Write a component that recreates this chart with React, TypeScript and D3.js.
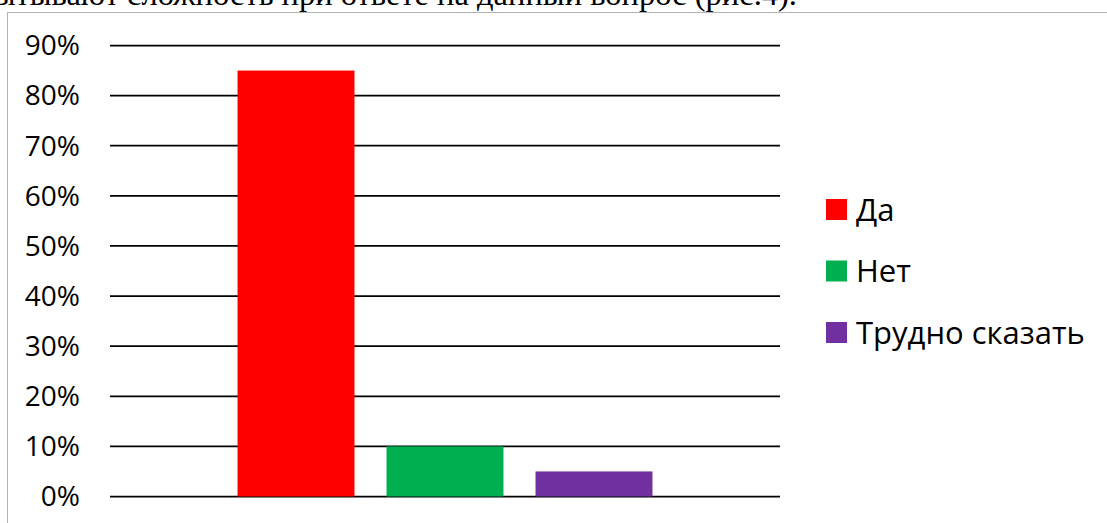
import React from "react";
import * as d3 from "d3";

const seriesNames = ["Да", "Нет", "Трудно сказать"];
const seriesValues = [0.85, 0.1, 0.05];
const seriesColors = ["#ff0000", "#00b050", "#7030a0"];
const yTicks = [0, 0.1, 0.2, 0.3, 0.4, 0.5, 0.6, 0.7, 0.8, 0.9];
const captionText = "испытывают сложность при ответе на данный вопрос (рис.4).";

const W = 1107;
const H = 523;

export default function App() {
  const y = d3.scaleLinear().domain([0, 0.9]).range([496.5, 45.5]);
  const x = d3
    .scaleBand<string>()
    .domain(seriesNames)
    .range([110, 780])
    .paddingInner(0.215)
    .paddingOuter(0.856);
  const fmt = d3.format(".0%");
  const font = "'Open Sans', 'Noto Sans', sans-serif";

  return (
    <svg
      width={W}
      height={H}
      style={{ position: "absolute", left: 0, top: 0, background: "#fff" }}
    >
      <text
        x={797}
        y={5}
        textAnchor="end"
        fontFamily="'Liberation Serif', 'Times New Roman', serif"
        fontSize={32.5}
        fill="#000"
      >
        {captionText}
      </text>
      <rect x={7.5} y={12.5} width={W + 10} height={H + 10} fill="none" stroke="#b3b3b3" strokeWidth={1} />
      {yTicks.map((t) => (
        <g key={t}>
          <line x1={110} x2={780} y1={y(t)} y2={y(t)} stroke="#000" strokeWidth={1.75} />
          <text
            x={80}
            y={y(t)}
            dy="0.35em"
            textAnchor="end"
            fontFamily={font}
            fontSize={28}
            fill="#000"
          >
            {fmt(t)}
          </text>
        </g>
      ))}
      {seriesNames.map((s, i) => (
        <rect
          key={s}
          x={x(s)}
          width={x.bandwidth()}
          y={y(seriesValues[i])}
          height={y(0) - y(seriesValues[i])}
          fill={seriesColors[i]}
        />
      ))}
      {seriesNames.map((s, i) => (
        <g key={"lg" + s} transform={`translate(826, ${199 + i * 61.5})`}>
          <rect width={21} height={21} fill={seriesColors[i]} />
          <text x={30} y={10.5} dy="0.36em" fontFamily={font} fontSize={31} fill="#000">
            {s}
          </text>
        </g>
      ))}
    </svg>
  );
}
